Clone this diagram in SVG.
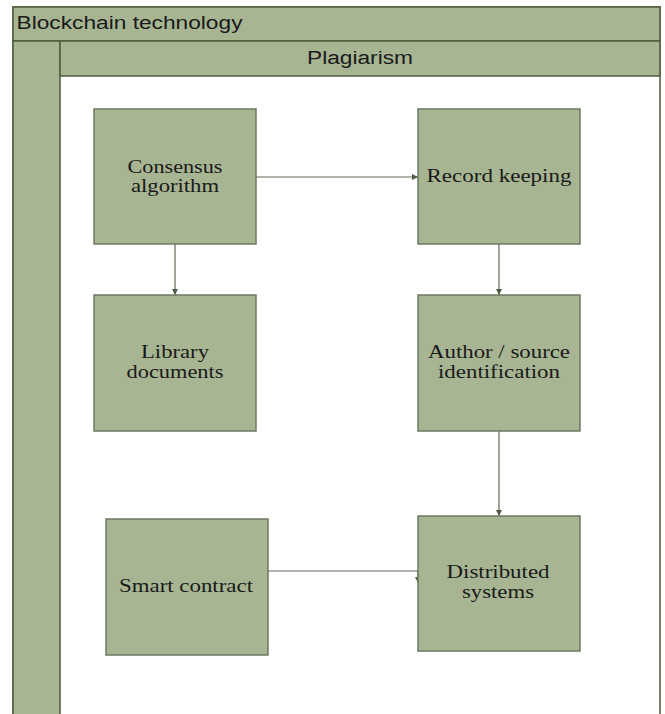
<svg xmlns="http://www.w3.org/2000/svg" width="665" height="714" viewBox="0 0 665 714">
<style>
.band{fill:#a7b593;stroke:#4f5c3e;stroke-width:1.5}
.node{fill:#a7b593;stroke:#6d7862;stroke-width:1.5}
.hdr{font-family:"Liberation Sans",Arial,sans-serif;font-size:18px;fill:#1a1a1a}
.lbl{font-family:"Liberation Serif","Times New Roman",serif;font-size:19px;fill:#1a1a1a;text-anchor:middle}
.conn{fill:none;stroke:#5f6854;stroke-width:1.2}
</style>
<defs>
<marker id="arr" viewBox="0 0 10 10" refX="10" refY="5" markerWidth="6" markerHeight="6" markerUnits="userSpaceOnUse" orient="auto">
<path d="M0,0 L10,5 L0,10 z" fill="#4f5a42"/>
</marker>
</defs>
<rect width="665" height="714" fill="#ffffff"/>
<g id="pool">
<rect x="13" y="7" width="647" height="720" fill="#ffffff" stroke="#4f5c3e" stroke-width="1.5"/>
<rect class="band" x="13" y="7" width="647" height="34"/>
<rect class="band" x="13" y="41" width="47" height="690"/>
<rect class="band" x="60" y="41" width="600" height="35"/>
<text class="hdr" x="16.5" y="29" textLength="226" lengthAdjust="spacingAndGlyphs">Blockchain technology</text>
<text class="hdr" x="307" y="63.5" textLength="106" lengthAdjust="spacingAndGlyphs">Plagiarism</text>
</g>
<g id="connectors">
<path class="conn" d="M256,177 H418" marker-end="url(#arr)"/>
<path class="conn" d="M175,244 V295" marker-end="url(#arr)"/>
<path class="conn" d="M499,244 V295" marker-end="url(#arr)"/>
<path class="conn" d="M499,431 V516" marker-end="url(#arr)"/>
<path class="conn" d="M268,571 H418 V583" marker-end="url(#arr)"/>
</g>
<g id="consensus">
<rect class="node" x="94" y="109" width="162" height="135"/>
<text class="lbl" x="175" y="172.5" textLength="95" lengthAdjust="spacingAndGlyphs">Consensus</text>
<text class="lbl" x="175" y="191.5" textLength="88" lengthAdjust="spacingAndGlyphs">algorithm</text>
</g>
<g id="record">
<rect class="node" x="418" y="109" width="162" height="135"/>
<text class="lbl" x="499" y="182" textLength="145" lengthAdjust="spacingAndGlyphs">Record keeping</text>
</g>
<g id="library">
<rect class="node" x="94" y="295" width="162" height="136"/>
<text class="lbl" x="175" y="358" textLength="68" lengthAdjust="spacingAndGlyphs">Library</text>
<text class="lbl" x="175" y="378" textLength="97" lengthAdjust="spacingAndGlyphs">documents</text>
</g>
<g id="author">
<rect class="node" x="418" y="295" width="162" height="136"/>
<text class="lbl" x="499" y="358" textLength="142" lengthAdjust="spacingAndGlyphs">Author / source</text>
<text class="lbl" x="499" y="378" textLength="122" lengthAdjust="spacingAndGlyphs">identification</text>
</g>
<g id="smart">
<rect class="node" x="106" y="519" width="162" height="136"/>
<text class="lbl" x="186" y="592" textLength="134" lengthAdjust="spacingAndGlyphs">Smart contract</text>
</g>
<g id="distributed">
<rect class="node" x="418" y="516" width="162" height="135"/>
<text class="lbl" x="498" y="578" textLength="103" lengthAdjust="spacingAndGlyphs">Distributed</text>
<text class="lbl" x="498" y="598" textLength="72" lengthAdjust="spacingAndGlyphs">systems</text>
</g>
</svg>
